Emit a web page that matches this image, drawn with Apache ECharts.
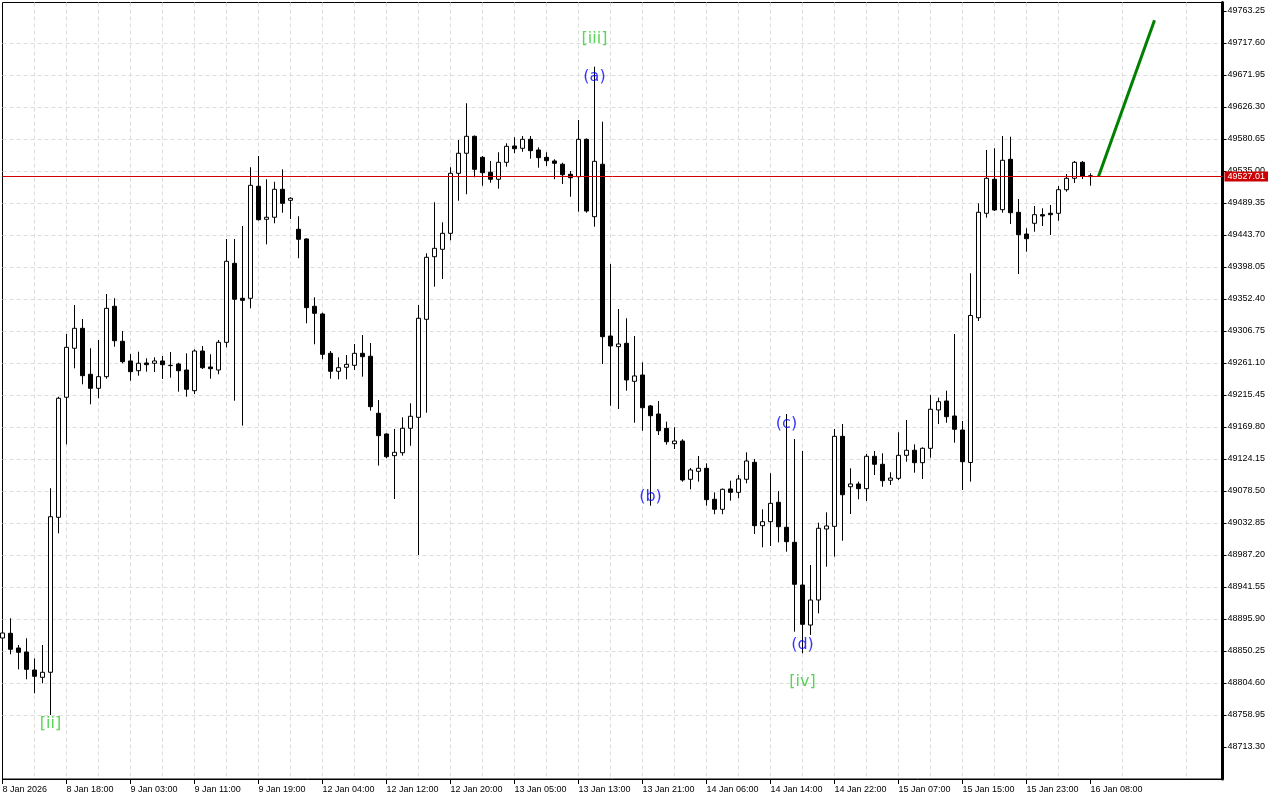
<!DOCTYPE html>
<html>
<head>
<meta charset="utf-8">
<script src="https://cdn.jsdelivr.net/npm/echarts@6/dist/echarts.min.js"></script>
<style>html,body{margin:0;padding:0;background:#fff}#chart{width:1280px;height:800px}</style>
</head>
<body>
<div id="chart"></div>
<script>
// X-axis tick labels (one every 8 hourly bars)
const xTickLabels = ['8 Jan 2026','8 Jan 18:00','9 Jan 03:00','9 Jan 11:00','9 Jan 19:00','12 Jan 04:00',
  '12 Jan 12:00','12 Jan 20:00','13 Jan 05:00','13 Jan 13:00','13 Jan 21:00','14 Jan 06:00','14 Jan 14:00',
  '14 Jan 22:00','15 Jan 07:00','15 Jan 15:00','15 Jan 23:00','16 Jan 08:00'];

const opens = [48868.8,48875.5,48854.5,48848.8,48823.1,48812.7,48819.9,49041.0,49212.2,49282.1,
49310.6,49245.0,49225.0,49241.6,49342.0,49292.1,49264.0,49250.1,49261.1,49260.7,
49264.0,49257.8,49259.7,49251.1,49221.6,49278.2,49255.4,49251.1,49290.6,49403.3,
49353.4,49353.4,49513.2,49466.1,49469.0,49508.9,49493.2,49451.8,49438.0,49342.0,
49331.0,49274.9,49249.3,49255.0,49257.8,49274.9,49270.7,49189.4,49159.8,49128.9,
49133.1,49168.0,49183.6,49323.4,49412.7,49423.3,49446.1,49531.7,49560.3,49584.5,
49554.5,49533.2,49523.2,49547.4,49570.7,49567.4,49580.2,49565.0,49554.5,49549.3,
49544.6,49530.3,49526.9,49580.2,49469.8,49544.6,49299.6,49284.4,49289.2,49235.0,
49244.0,49199.8,49188.3,49167.9,49146.0,49149.8,49095.2,49106.6,49110.9,49066.7,
49052.4,49081.4,49076.6,49095.2,49119.4,49029.0,49034.7,49062.4,49026.7,49005.3,
48944.4,48887.3,48923.0,49024.3,49028.1,49156.5,49084.6,49088.5,49081.8,49128.0,
49116.6,49093.8,49096.6,49129.4,49136.6,49118.9,49139.4,49194.1,49206.9,49185.5,
49165.5,49119.2,49325.7,49474.7,49523.2,49479.8,49551.7,49476.1,49445.1,49460.4,
49472.7,49474.7,49474.7,49508.3,49524.6,49547.4,49528.2];

const closes = [48875.9,48852.7,48848.4,48824.1,48814.2,48819.9,49041.8,49210.8,49283.5,49310.6,
49243.0,49225.0,49241.6,49339.1,49292.9,49263.0,49248.7,49260.7,49258.7,49264.0,
49258.7,49257.4,49250.1,49223.6,49278.2,49254.4,49253.0,49290.6,49406.2,49352.0,
49350.5,49514.6,49465.5,49469.0,49508.9,49488.9,49496.1,49437.6,49340.0,49332.0,
49273.5,49249.3,49254.4,49259.2,49274.9,49270.1,49198.8,49157.4,49127.4,49133.7,
49168.0,49185.1,49324.9,49411.9,49424.7,49446.1,49531.7,49560.3,49584.5,49537.4,
49532.6,49523.2,49547.4,49570.2,49566.8,49580.2,49564.0,49554.0,49549.7,49546.0,
49529.7,49525.4,49580.2,49477.9,49548.8,49298.6,49285.4,49288.2,49236.9,49242.6,
49197.3,49185.9,49164.5,49148.8,49149.8,49094.2,49108.5,49110.9,49066.1,49052.4,
49080.9,49076.6,49095.6,49121.3,49029.0,49034.7,49060.9,49027.6,49006.2,48945.4,
48888.3,48923.0,49025.3,49028.6,49156.5,49073.2,49088.5,49081.8,49128.0,49116.6,
49093.2,49097.0,49129.4,49136.6,49118.9,49139.4,49195.1,49205.9,49184.5,49166.5,
49120.3,49328.9,49476.1,49524.6,49479.4,49550.3,49475.5,49444.1,49438.4,49472.7,
49470.8,49472.7,49508.3,49524.6,49547.4,49527.9,49527.01];

const lows = [48863.1,48845.5,48824.1,48809.9,48789.9,48804.2,48759.0,49018.2,49145.1,49253.5,
49230.7,49202.2,49210.8,49238.7,49284.3,49260.7,49235.9,49243.0,49248.7,49248.3,
49238.3,49240.1,49220.2,49213.0,49216.9,49252.5,49238.7,49245.0,49283.5,49207.3,
49171.7,49339.1,49464.4,49430.4,49460.4,49475.5,49466.5,49410.5,49317.7,49287.8,
49266.4,49238.7,49237.8,49237.8,49251.1,49241.6,49193.1,49114.8,49125.2,49067.1,
49128.9,49143.1,48987.2,49190.2,49370.0,49380.9,49436.1,49492.6,49501.8,49526.0,
49514.0,49518.3,49509.8,49541.1,49560.3,49562.5,49552.5,49539.7,49542.1,49523.2,
49516.5,49498.3,49476.9,49475.5,49455.5,49259.7,49200.2,49195.5,49221.6,49175.9,
49164.5,49057.5,49158.4,49144.6,49138.4,49091.8,49080.9,49091.8,49057.5,49045.3,
49045.3,49064.7,49068.1,49089.5,49017.2,48998.2,49000.0,49005.3,48991.9,48877.8,
48847.0,48873.1,48904.0,48970.5,48984.8,49007.6,49045.7,49066.7,49064.2,49101.3,
49084.6,49087.1,49094.2,49120.3,49104.6,49095.6,49126.0,49174.1,49175.9,49147.4,
49079.9,49091.8,49321.0,49468.4,49477.9,49475.5,49459.4,49388.1,49419.9,49448.4,
49456.5,49443.7,49464.1,49505.5,49517.9,49523.6,49514.0];

const highs = [48883.1,48896.9,48858.8,48868.4,48839.7,48858.8,49082.4,49213.0,49302.5,49343.8,
49323.9,49282.1,49293.9,49359.5,49353.4,49306.8,49273.9,49277.2,49267.8,49269.2,
49271.1,49276.8,49261.5,49274.9,49280.6,49285.4,49273.5,49293.9,49438.0,49438.0,
49456.5,49540.3,49556.4,49523.2,49519.7,49537.4,49497.5,49470.4,49439.0,49354.8,
49332.9,49278.2,49269.2,49272.5,49288.2,49301.0,49289.6,49208.3,49160.8,49167.0,
49183.6,49203.6,49343.8,49417.6,49490.4,49461.8,49540.3,49579.2,49631.6,49585.6,
49556.4,49549.3,49561.7,49574.5,49583.1,49584.9,49584.9,49568.8,49561.7,49551.7,
49546.8,49535.0,49607.8,49581.4,49683.8,49605.3,49402.3,49338.1,49324.9,49299.6,
49262.1,49201.2,49206.9,49177.4,49169.4,49152.3,49111.3,49128.4,49118.0,49076.6,
49082.1,49093.2,49101.3,49133.7,49124.2,49052.4,49103.8,49078.5,49188.3,49152.7,
49135.6,48972.9,49033.3,49048.1,49167.0,49174.1,49110.9,49091.8,49131.3,49135.6,
49132.3,49105.2,49162.2,49179.8,49145.1,49140.8,49215.5,49211.6,49221.6,49302.5,
49178.4,49389.1,49488.9,49565.0,49567.4,49584.9,49583.9,49495.1,49453.3,49485.1,
49481.8,49486.5,49513.6,49530.7,49549.3,49549.3,49531.7];

const currentPrice = 49527.01;

// Projected move (green line): bar index and price
const projIdx = [137, 144];
const projPrice = [49527.01, 49750.0];

// Wave annotations: bar index, price, text
const waveIdx = [6, 74, 74, 81, 98, 100, 100];
const wavePrice = [48746.1, 49723.3, 49669.8, 49069.9, 49174.1, 48859.5, 48806.4];
const waveText = ['[ii]', '[iii]', '(a)', '(b)', '(c)', '(d)', '[iv]'];

// Price axis: ticks every 45.65 counted from min; first labelled tick and count
const yMin = 48667.65, yMax = 49775.37, yStep = 45.65;
const yFirstLabel = 48713.30, yLabelCount = 24;
const xMax = 152.5, xStep = 8;

const xTickValues = xTickLabels.map((_, i) => i * xStep);
const yTickValues = Array.from({length: yLabelCount}, (_, j) => +(yFirstLabel + j * yStep).toFixed(2));

const gridDash = {color: '#dcdcdc', width: 1, type: [4, 3]};
const FONT = 'Liberation Sans';

const chart = echarts.init(document.getElementById('chart'), null, {renderer: 'canvas'});
chart.setOption({
  animation: false,
  backgroundColor: '#ffffff',
  grid: {left: 2.5, right: 57.5, top: 2.5, bottom: 21, show: true, borderColor: '#000', borderWidth: 1,
         backgroundColor: '#ffffff', containLabel: false, outerBoundsMode: 'none'},
  xAxis: {
    type: 'value', min: 0, max: xMax, interval: xStep,
    axisLine: {show: true, onZero: false, lineStyle: {color: '#000', width: 1}},
    axisTick: {show: true, length: 5, customValues: xTickValues, lineStyle: {color: '#000', width: 1}},
    axisLabel: {
      show: true, align: 'left', margin: 6, fontFamily: FONT, fontSize: 9, color: '#000',
      hideOverlap: false, customValues: xTickValues,
      formatter: function (v) {
        const i = Math.round(v / xStep);
        return (i >= 0 && i < xTickLabels.length) ? xTickLabels[i] : '';
      }
    },
    splitLine: {show: true, showMinLine: false, showMaxLine: false, lineStyle: gridDash},
    minorTick: {show: false, splitNumber: 2},
    minorSplitLine: {show: true, lineStyle: gridDash}
  },
  yAxis: {
    type: 'value', position: 'right', min: yMin, max: yMax, interval: yStep, scale: true,
    axisLine: {show: true, onZero: false, lineStyle: {color: '#000', width: 3}},
    axisTick: {show: true, length: 4, customValues: yTickValues, lineStyle: {color: '#000', width: 1}},
    axisLabel: {
      margin: 5, fontFamily: FONT, fontSize: 9, color: '#000', hideOverlap: false,
      customValues: yTickValues,
      formatter: function (v) { return v.toFixed(2); }
    },
    splitLine: {show: true, showMinLine: false, showMaxLine: false, lineStyle: gridDash}
  },
  series: [
    {
      type: 'candlestick',
      data: opens.map((o, i) => [i, o, closes[i], lows[i], highs[i]]),
      encode: {x: 0, y: [1, 2, 3, 4]},
      barWidth: 4,
      silent: true,
      itemStyle: {color: '#ffffff', color0: '#000000', borderColor: '#000000', borderColor0: '#000000',
                  borderColorDoji: '#000000', borderWidth: 1},
      markLine: {
        silent: true, symbol: ['none', 'none'], animation: false,
        data: [{yAxis: currentPrice}],
        lineStyle: {color: '#d40000', width: 1, type: 'solid'},
        label: {show: true, position: 'end', distance: 2, formatter: currentPrice.toFixed(2),
                color: '#ffffff', backgroundColor: '#cc0000', padding: [1, 3, 0, 3], lineHeight: 9,
                fontFamily: FONT, fontSize: 9},
        emphasis: {disabled: true}
      }
    },
    {
      type: 'line', silent: true, symbol: 'none',
      data: projIdx.map((k, i) => [k, projPrice[i]]),
      lineStyle: {color: '#008000', width: 3}
    },
    {
      type: 'scatter', silent: true, symbolSize: 1,
      itemStyle: {color: 'rgba(0,0,0,0)'},
      data: waveIdx.map((k, i) => ({
        value: [k, wavePrice[i]],
        label: {color: waveText[i].charAt(0) === '[' ? '#2ecc2e' : '#0000ff'}
      })),
      label: {show: true, position: 'inside', fontFamily: 'DejaVu Sans', fontSize: 16,
              formatter: p => waveText[p.dataIndex]}
    }
  ]
});
</script>
</body>
</html>
